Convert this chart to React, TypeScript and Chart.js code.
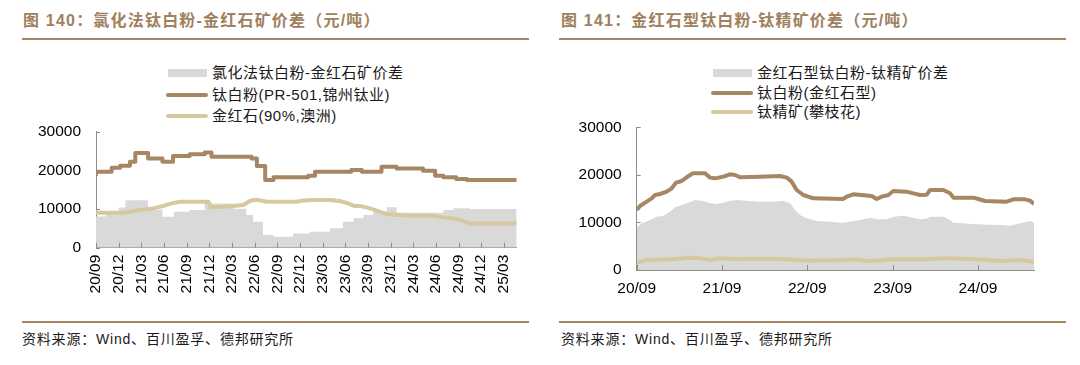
import React, { useEffect, useRef } from 'react';
import { Chart, registerables } from 'chart.js';

Chart.register(...registerables);

const BROWN = '#a68663';
const TAN = '#d8c8a0';
const GRAY = '#d9d9d9';
const AXIS = '#8c8c8c';
const TITLE = '#a0815e';
const FONT = '"Liberation Sans", Arial, "Noto Sans CJK SC", sans-serif';

// ---------- Left chart (months since 2020-09) ----------
const leftTickMonths = [0, 3, 6, 9, 12, 15, 18, 21, 24, 27, 30, 33, 36, 39, 42, 45, 48, 51, 54];
const leftTickLabels = ['20/09', '20/12', '21/03', '21/06', '21/09', '21/12', '22/03', '22/06', '22/09', '22/12', '23/03', '23/06', '23/09', '23/12', '24/03', '24/06', '24/09', '24/12', '25/03'];
const leftEnd = 55.7;

// 钛白粉(PR-501,锦州钛业) — step changes
const leftPowderMonths = [0, 2.07, 3.2, 4.5, 5.2, 6.9, 8.8, 10.2, 12.4, 14.4, 15.3, 20.6, 21.3, 22.4, 23.5, 28.1, 29.0, 33.8, 35.2, 37.8, 39.8, 43.3, 44.9, 46.0, 47.7, 49.1, 55.2, 55.7];
const leftPowderValues = [18600, 19650, 20700, 21200, 22200, 24500, 23100, 22200, 23700, 24200, 24650, 23500, 23100, 21100, 17500, 18200, 18600, 19650, 20100, 19650, 20950, 20500, 19900, 18600, 18200, 17750, 17500, 17500];

// 金红石(90%,澳洲)
const leftRutileMonths = [0, 3.62, 4.5, 5.82, 7.59, 8.91, 10.01, 11.12, 14.87, 15.17, 16.85, 18.17, 19.5, 20.38, 20.82, 21.48, 22.59, 26.55, 27.22, 28.54, 30.97, 32.29, 33.39, 34.27, 34.94, 35.82, 36.7, 37.58, 38.47, 39.79, 40.67, 41.55, 44.64, 45.96, 47.73, 48.61, 49.27, 55.7];
const leftRutileValues = [9050, 9050, 9310, 9740, 10170, 10780, 11460, 11900, 11900, 10430, 10600, 10780, 11030, 12070, 12330, 12330, 11900, 11900, 12150, 12330, 12330, 12070, 11460, 10780, 10780, 10430, 9910, 9310, 8700, 8450, 8450, 8280, 8280, 7840, 7410, 6900, 6290, 6290];

// 氯化法钛白粉-金红石矿价差 — step changes
const leftSpreadMonths = [0, 1.3, 3.0, 3.9, 6.9, 8.8, 10.3, 12.4, 14.4, 15.3, 18.2, 19.9, 20.8, 22.1, 23.5, 26.1, 28.3, 31.0, 32.7, 34.1, 35.4, 36.7, 38.5, 39.8, 46.0, 47.3, 49.5, 55.7];
const leftSpreadValues = [7600, 8100, 8700, 10400, 12300, 9800, 8000, 9300, 9750, 11900, 11400, 10100, 8450, 6700, 3300, 2850, 3700, 4100, 5000, 6700, 7600, 8450, 9300, 10450, 9050, 9750, 10200, 10000];

// ---------- Right chart (months since 2020-09) ----------
const rightTickMonths = [0, 12, 24, 36, 48];
const rightTickLabels = ['20/09', '21/09', '22/09', '23/09', '24/09'];
const rightEnd = 55.88;

// 钛白粉(金红石型)
const rightPowderMonths = [0, 0.47, 1.41, 2.11, 2.58, 3.28, 4.22, 4.92, 5.53, 6.33, 7.03, 7.88, 9.61, 10.31, 11.02, 12.19, 13.13, 13.83, 14.53, 17.35, 20.16, 21.1, 21.8, 22.5, 23.44, 24.85, 29.07, 29.54, 30.47, 33.05, 33.76, 34.46, 35.4, 36.1, 37.97, 38.91, 39.85, 40.79, 41.26, 43.13, 44.07, 44.54, 47.35, 48.05, 48.99, 52.04, 52.98, 54.62, 55.32, 55.88];
const rightPowderValues = [12600, 13460, 14370, 15070, 15770, 15980, 16470, 17170, 18360, 18710, 19490, 20330, 20330, 19420, 19270, 19630, 20120, 19980, 19490, 19630, 19770, 19420, 18570, 16820, 15770, 15070, 14930, 15420, 15910, 15560, 14930, 15420, 15770, 16610, 16470, 16120, 15770, 15840, 16820, 16820, 16120, 15210, 15210, 14930, 14510, 14370, 14860, 14860, 14580, 13880];

// 钛精矿(攀枝花)
const rightOreMonths = [0, 1.41, 4.69, 7.5, 9.1, 10.3, 11.7, 14.5, 17.35, 21.1, 24.4, 29.1, 30.5, 32.8, 36.1, 40.8, 43.1, 47.8, 51.1, 53.9, 55.88];
const rightOreValues = [1540, 2100, 2240, 2590, 2450, 2100, 2450, 2240, 2350, 2240, 1960, 2100, 2240, 1890, 2240, 2240, 2450, 2240, 1890, 2100, 1750];

// 金红石型钛白粉-钛精矿价差
const rightSpreadMonths = [0, 0.7, 1.88, 2.81, 3.75, 4.69, 5.39, 6.33, 7.27, 8.2, 9.38, 10.31, 11.25, 12.19, 13.13, 14.06, 15.94, 17.35, 19.22, 20.63, 21.57, 22.27, 22.97, 23.91, 25.32, 29.07, 31.41, 32.82, 33.76, 35.16, 36.1, 37.5, 38.91, 39.85, 40.79, 41.26, 43.13, 44.07, 44.54, 47.35, 49.23, 51.1, 52.51, 53.91, 55.32, 55.88];
const rightSpreadValues = [8900, 9810, 10510, 11210, 11350, 12270, 13180, 13670, 14160, 14720, 14510, 14020, 13880, 14160, 14580, 14720, 14510, 14370, 14370, 14510, 14020, 12620, 11570, 10860, 10300, 9950, 10510, 11000, 10650, 10650, 11210, 11420, 11000, 10650, 10790, 11210, 11210, 10510, 9950, 9670, 9530, 9460, 9320, 9810, 10300, 9950];

const yTicks = [0, 10000, 20000, 30000];

const pts = (xs: number[], ys: number[]) => xs.map((x, i) => ({ x, y: ys[i] }));

const innerTicks = {
  id: 'innerTicks',
  afterDatasetsDraw(chart: any) {
    const { ctx, chartArea, scales } = chart;
    const x = scales.x;
    const y = scales.y;
    ctx.save();
    ctx.strokeStyle = AXIS;
    ctx.lineWidth = 1;
    ctx.beginPath();
    x.ticks.forEach((t: any) => {
      const px = Math.round(x.getPixelForValue(t.value)) + 0.5;
      ctx.moveTo(px, chartArea.bottom);
      ctx.lineTo(px, chartArea.bottom - 5);
    });
    y.ticks.forEach((t: any) => {
      const py = Math.round(y.getPixelForValue(t.value)) + 0.5;
      ctx.moveTo(chartArea.left, py);
      ctx.lineTo(chartArea.left + 4, py);
    });
    ctx.stroke();
    ctx.restore();
  },
};

function makeConfig(opts: {
  spread: { x: number; y: number }[];
  powder: { x: number; y: number }[];
  other: { x: number; y: number }[];
  stepSpread: boolean;
  stepPowder: boolean;
  tickMonths: number[];
  tickLabels: string[];
  end: number;
  rotate: boolean;
  yWidth: number;
  xHeight: number;
  padTop: number;
  padRight: number;
  xPad: number;
}): any {
  return {
    type: 'line',
    data: {
      datasets: [
        {
          label: 'powder',
          data: opts.powder,
          borderColor: BROWN,
          borderWidth: 4,
          pointRadius: 0,
          fill: false,
          stepped: opts.stepPowder ? 'after' : false,
          tension: 0,
          borderJoinStyle: 'round',
        },
        {
          label: 'other',
          data: opts.other,
          borderColor: TAN,
          borderWidth: 4,
          pointRadius: 0,
          fill: false,
          tension: 0,
          borderJoinStyle: 'round',
        },
        {
          label: 'spread',
          data: opts.spread,
          borderWidth: 0,
          borderColor: 'rgba(0,0,0,0)',
          backgroundColor: GRAY,
          pointRadius: 0,
          fill: 'origin',
          stepped: opts.stepSpread ? 'after' : false,
          tension: 0,
        },
      ],
    },
    options: {
      responsive: false,
      animation: false,
      devicePixelRatio: 1,
      layout: { padding: { left: 0, top: opts.padTop, right: opts.padRight, bottom: 0 } },
      plugins: {
        legend: { display: false },
        tooltip: { enabled: false },
        filler: { drawTime: 'beforeDatasetsDraw' },
      },
      scales: {
        x: {
          type: 'linear',
          min: 0,
          max: opts.end,
          afterBuildTicks: (scale: any) => {
            scale.ticks = opts.tickMonths.map((v) => ({ value: v }));
          },
          afterFit: (scale: any) => {
            scale.height = opts.xHeight;
          },
          grid: { display: true, drawOnChartArea: false, drawTicks: false },
          border: { display: true, color: AXIS, width: 1 },
          ticks: {
            autoSkip: false,
            minRotation: opts.rotate ? 90 : 0,
            maxRotation: opts.rotate ? 90 : 0,
            padding: opts.xPad,
            color: '#000',
            font: { family: FONT, size: 15.5 },
            callback: (v: number) => {
              const i = opts.tickMonths.indexOf(v);
              return i >= 0 ? opts.tickLabels[i] : '';
            },
          },
        },
        y: {
          type: 'linear',
          min: 0,
          max: 30000,
          afterBuildTicks: (scale: any) => {
            scale.ticks = yTicks.map((v) => ({ value: v }));
          },
          afterFit: (scale: any) => {
            scale.width = opts.yWidth;
          },
          grid: {
            display: true,
            drawOnChartArea: false,
            drawTicks: true,
            tickLength: 15,
            tickColor: 'rgba(0,0,0,0)',
          },
          border: { display: true, color: AXIS, width: 1 },
          ticks: {
            padding: 0,
            color: '#000',
            font: { family: FONT, size: 15.5 },
            callback: (v: number) => String(v),
          },
        },
      },
    },
    plugins: [innerTicks],
  };
}

const abs = (s: React.CSSProperties): React.CSSProperties => ({ position: 'absolute', ...s });

function LegendRow(props: { left: number; top: number; kind: 'box' | 'line'; color: string; text: string }) {
  const { left, top, kind, color, text } = props;
  return (
    <>
      {kind === 'box' ? (
        <div style={abs({ left, top: top - 4, width: 39, height: 8, background: color })} />
      ) : (
        <div style={abs({ left: left - 2, top: top - 2, width: 42, height: 4, borderRadius: 2, background: color })} />
      )}
      <div
        style={abs({
          left: left + 44,
          top: top - 10,
          height: 20,
          lineHeight: '20px',
          fontSize: 15,
          letterSpacing: 0.5,
          color: '#1a1a1a',
          whiteSpace: 'nowrap',
          fontFamily: FONT,
        })}
      >
        {text}
      </div>
    </>
  );
}

export default function App() {
  const leftRef = useRef<HTMLCanvasElement | null>(null);
  const rightRef = useRef<HTMLCanvasElement | null>(null);

  useEffect(() => {
    const left = new Chart(
      leftRef.current as HTMLCanvasElement,
      makeConfig({
        spread: pts(leftSpreadMonths, leftSpreadValues),
        powder: pts(leftPowderMonths, leftPowderValues),
        other: pts(leftRutileMonths, leftRutileValues),
        stepSpread: true,
        stepPowder: true,
        tickMonths: leftTickMonths,
        tickLabels: leftTickLabels,
        end: leftEnd,
        rotate: true,
        yWidth: 76,
        xHeight: 62.3,
        padTop: 13.7,
        padRight: 18.3,
        xPad: 7,
      })
    );
    const right = new Chart(
      rightRef.current as HTMLCanvasElement,
      makeConfig({
        spread: pts(rightSpreadMonths, rightSpreadValues),
        powder: pts(rightPowderMonths, rightPowderValues),
        other: pts(rightOreMonths, rightOreValues),
        stepSpread: false,
        stepPowder: false,
        tickMonths: rightTickMonths,
        tickLabels: rightTickLabels,
        end: rightEnd,
        rotate: false,
        yWidth: 76.7,
        xHeight: 33,
        padTop: 14.3,
        padRight: 41,
        xPad: 9,
      })
    );
    return () => {
      left.destroy();
      right.destroy();
    };
  }, []);

  const titleStyle = (left: number): React.CSSProperties =>
    abs({
      left,
      top: 11,
      height: 20,
      lineHeight: '20px',
      fontSize: 16,
      fontWeight: 'bold',
      letterSpacing: 1.2,
      color: TITLE,
      whiteSpace: 'nowrap',
      fontFamily: FONT,
    });
  const sourceStyle = (left: number): React.CSSProperties =>
    abs({
      left,
      top: 330,
      height: 18,
      lineHeight: '18px',
      fontSize: 14,
      letterSpacing: 0.8,
      color: '#1a1a1a',
      whiteSpace: 'nowrap',
      fontFamily: FONT,
    });

  return (
    <div style={abs({ left: 0, top: 0, width: 1080, height: 365, background: '#fff', overflow: 'hidden' })}>
      {/* Left panel */}
      <div style={titleStyle(23)}>图 140：氯化法钛白粉-金红石矿价差（元/吨）</div>
      <div style={abs({ left: 22, top: 38, width: 507, height: 2, background: BROWN })} />
      <LegendRow left={168} top={73} kind="box" color={GRAY} text="氯化法钛白粉-金红石矿价差" />
      <LegendRow left={168} top={94.5} kind="line" color={BROWN} text="钛白粉(PR-501,锦州钛业)" />
      <LegendRow left={168} top={116} kind="line" color={TAN} text="金红石(90%,澳洲)" />
      <canvas ref={leftRef} width={515} height={192} style={abs({ left: 20, top: 118, width: 515, height: 192, display: 'block' })} />
      <div style={abs({ left: 22, top: 321, width: 507, height: 2, background: BROWN })} />
      <div style={sourceStyle(22)}>资料来源：Wind、百川盈孚、德邦研究所</div>

      {/* Right panel */}
      <div style={titleStyle(561)}>图 141：金红石型钛白粉-钛精矿价差（元/吨）</div>
      <div style={abs({ left: 559, top: 38, width: 507, height: 2, background: BROWN })} />
      <LegendRow left={713} top={72.5} kind="box" color={GRAY} text="金红石型钛白粉-钛精矿价差" />
      <LegendRow left={713} top={92.5} kind="line" color={BROWN} text="钛白粉(金红石型)" />
      <LegendRow left={713} top={111.5} kind="line" color={TAN} text="钛精矿(攀枝花)" />
      <canvas ref={rightRef} width={515} height={190} style={abs({ left: 560, top: 113, width: 515, height: 190, display: 'block' })} />
      <div style={abs({ left: 559, top: 321, width: 507, height: 2, background: BROWN })} />
      <div style={sourceStyle(561)}>资料来源：Wind、百川盈孚、德邦研究所</div>
    </div>
  );
}
